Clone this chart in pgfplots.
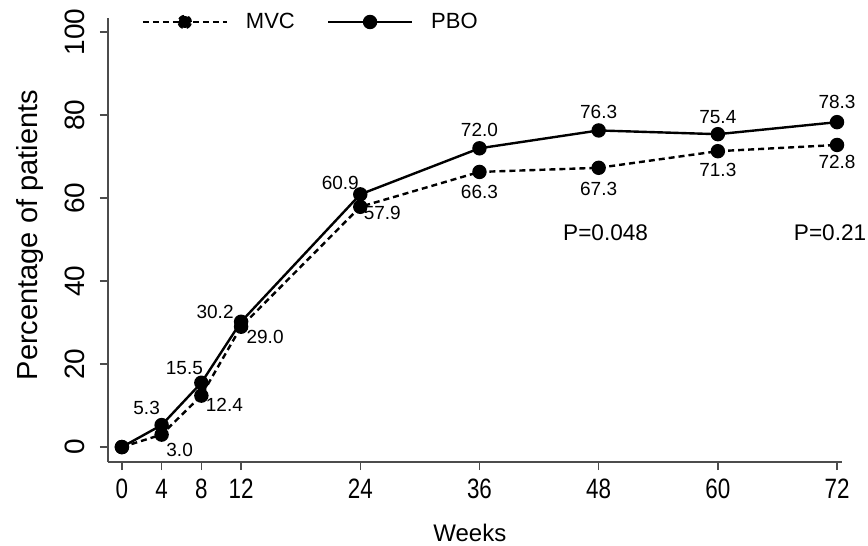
\documentclass[border=0pt]{standalone}
\usepackage{fontspec}
\setmainfont{Liberation Sans}
\usepackage{graphicx}
\usepackage{pgfplots}
\pgfplotsset{compat=1.18}
\begin{document}
\begin{tikzpicture}
\useasboundingbox (-54pt,-42pt) rectangle (380pt,231pt);
\begin{axis}[
  at={(0,0)}, anchor=south west,
  scale only axis, width=367pt, height=222pt,
  xmin=-1.4, xmax=72.5, ymin=-3.6, ymax=103.4,
  axis x line*=bottom, axis y line*=left,
  axis line style={-, line width=0.7pt, black!70},
  tick align=outside, major tick length=4pt,
  tick style={black!70, line width=0.7pt},
  xtick={0,4,8,12,24,36,48,60,72},
  ytick={0,20,40,60,80,100},
  /pgf/number format/assume math mode=true,
  xticklabel={\scalebox{0.8}[1]{\pgfmathprintnumber{\tick}}},
  xticklabel style={font=\fontsize{14}{15}\selectfont, anchor=north, yshift=-1pt},
  yticklabel style={font=\fontsize{14}{15}\selectfont, rotate=90, anchor=south, yshift=4pt},
  xlabel={Weeks},
  ylabel={Percentage of patients},
  x label style={at={(axis description cs:0.493,-0.16)}, anchor=center, font=\fontsize{12}{14}\selectfont},
  y label style={at={(axis description cs:-0.1063,0.511)}, anchor=center, font=\fontsize{14.5}{16}\selectfont},
  legend columns=2,
  legend style={at={(axis description cs:0.037,0.991)}, anchor=west, draw=none, fill=none,
    font=\fontsize{11}{13}\selectfont,
    /tikz/every odd column/.append style={column sep=7pt},
    /tikz/every even column/.append style={column sep=14pt}},
  legend image code/.code={\draw[#1,mark=none] (0pt,0pt) -- (42pt,0pt); \fill (21pt,0pt) circle (3pt);},
  clip=false,
]
\addplot[black, line width=1.2pt, dash pattern=on 3pt off 2pt, mark=*, mark size=3pt, mark options={solid}]
  coordinates {(0,0) (4,3.0) (8,12.4) (12,29.0) (24,57.9) (36,66.3) (48,67.3) (60,71.3) (72,72.8)};
\addlegendentry{MVC}
\addplot[black, line width=1.2pt, mark=*, mark size=3pt]
  coordinates {(0,0) (4,5.3) (8,15.5) (12,30.2) (24,60.9) (36,72.0) (48,76.3) (60,75.4) (72,78.3)};
\addlegendentry{PBO}
\begin{scope}[every node/.style={font=\fontsize{9.5}{10}\selectfont, inner sep=0pt}]
\node[xshift=-7.5pt, yshift=8.5pt] at (axis cs:4,5.3) {5.3};
\node[xshift=9pt, yshift=-7.8pt] at (axis cs:4,3.0) {3.0};
\node[xshift=-8.5pt, yshift=7.5pt] at (axis cs:8,15.5) {15.5};
\node[xshift=11.5pt, yshift=-4.75pt] at (axis cs:8,12.4) {12.4};
\node[xshift=-13pt, yshift=5pt] at (axis cs:12,30.2) {30.2};
\node[xshift=12pt, yshift=-5.2pt] at (axis cs:12,29.0) {29.0};
\node[xshift=-10pt, yshift=5.5pt] at (axis cs:24,60.9) {60.9};
\node[xshift=11pt, yshift=-3pt] at (axis cs:24,57.9) {57.9};
\node[yshift=9pt] at (axis cs:36,72.0) {72.0};
\node[yshift=-10pt] at (axis cs:36,66.3) {66.3};
\node[yshift=9pt] at (axis cs:48,76.3) {76.3};
\node[yshift=-10.5pt] at (axis cs:48,67.3) {67.3};
\node[yshift=8.5pt] at (axis cs:60,75.4) {75.4};
\node[yshift=-9.5pt] at (axis cs:60,71.3) {71.3};
\node[yshift=10pt] at (axis cs:72,78.3) {78.3};
\node[yshift=-8.5pt] at (axis cs:72,72.8) {72.8};
\end{scope}
\node[font=\fontsize{11.3}{13}\selectfont] at (axis cs:48.7,51.6) {P=0.048};
\node[font=\fontsize{11.3}{13}\selectfont] at (axis cs:71.3,51.6) {P=0.21};
\end{axis}
\end{tikzpicture}
\end{document}
